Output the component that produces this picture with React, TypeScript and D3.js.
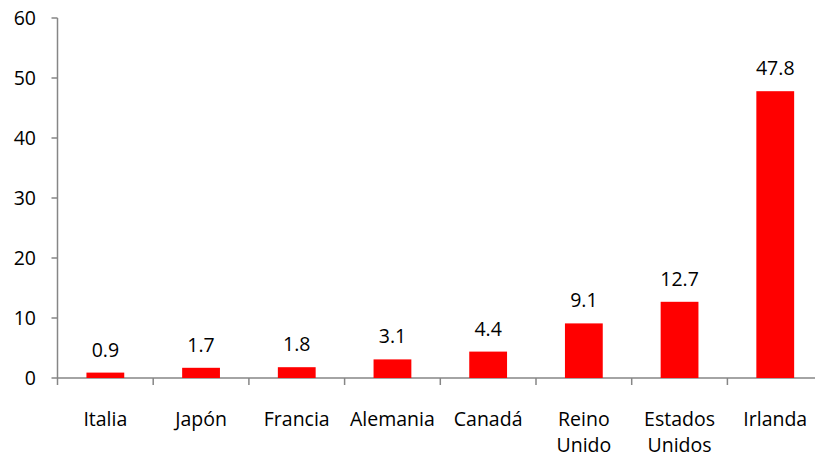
import React from "react";
import * as d3 from "d3";

const categories: string[][] = [
  ["Italia"],
  ["Japón"],
  ["Francia"],
  ["Alemania"],
  ["Canadá"],
  ["Reino", "Unido"],
  ["Estados", "Unidos"],
  ["Irlanda"],
];
const values: number[] = [0.9, 1.7, 1.8, 3.1, 4.4, 9.1, 12.7, 47.8];
const yTicks: number[] = [0, 10, 20, 30, 40, 50, 60];

const W = 815;
const H = 458;
const left = 57.5;
const bandW = 95.7;
const top = 18;
const bottom = 378;
const font = "'Open Sans', Lato, sans-serif";
const fs = 19.5;
const axisColor = "#868686";

export default function App() {
  const keys = categories.map((c) => c.join(" "));
  const x = d3
    .scaleBand<string>()
    .domain(keys)
    .range([left, left + bandW * keys.length])
    .paddingInner(0.605)
    .paddingOuter(0.3025);
  const y = d3.scaleLinear().domain([0, 60]).range([bottom, top]);
  const xEdges = d3.range(keys.length + 1).map((i) => left + i * bandW);

  return (
    <svg
      width={W}
      height={H}
      style={{ position: "absolute", left: 0, top: 0, background: "#fff" }}
    >
      {/* y axis */}
      <line x1={left} x2={left} y1={top} y2={bottom} stroke={axisColor} strokeWidth={1.5} />
      {yTicks.map((t) => (
        <g key={t}>
          <line x1={left - 6} x2={left} y1={y(t)} y2={y(t)} stroke={axisColor} strokeWidth={1.5} />
          <text
            x={36}
            y={y(t)}
            dy="0.35em"
            textAnchor="end"
            fontFamily={font}
            fontSize={fs}
            fill="#000"
          >
            {t}
          </text>
        </g>
      ))}
      {/* x axis */}
      <line
        x1={left}
        x2={left + bandW * keys.length}
        y1={bottom}
        y2={bottom}
        stroke={axisColor}
        strokeWidth={1.5}
      />
      {xEdges.map((e, i) => (
        <line key={i} x1={e} x2={e} y1={bottom} y2={bottom + 7} stroke={axisColor} strokeWidth={1.5} />
      ))}
      {/* bars */}
      {keys.map((k, i) => (
        <g key={k}>
          <rect
            x={x(k)!}
            y={y(values[i])}
            width={x.bandwidth()}
            height={bottom - y(values[i])}
            fill="#ff0000"
          />
          <text
            x={x(k)! + x.bandwidth() / 2}
            y={y(values[i]) - 16}
            textAnchor="middle"
            fontFamily={font}
            fontSize={fs}
            fill="#000"
          >
            {values[i]}
          </text>
          {categories[i].map((line, j) => (
            <text
              key={j}
              x={x(k)! + x.bandwidth() / 2}
              y={426 + j * 26}
              textAnchor="middle"
              fontFamily={font}
              fontSize={fs}
              fill="#000"
            >
              {line}
            </text>
          ))}
        </g>
      ))}
    </svg>
  );
}
